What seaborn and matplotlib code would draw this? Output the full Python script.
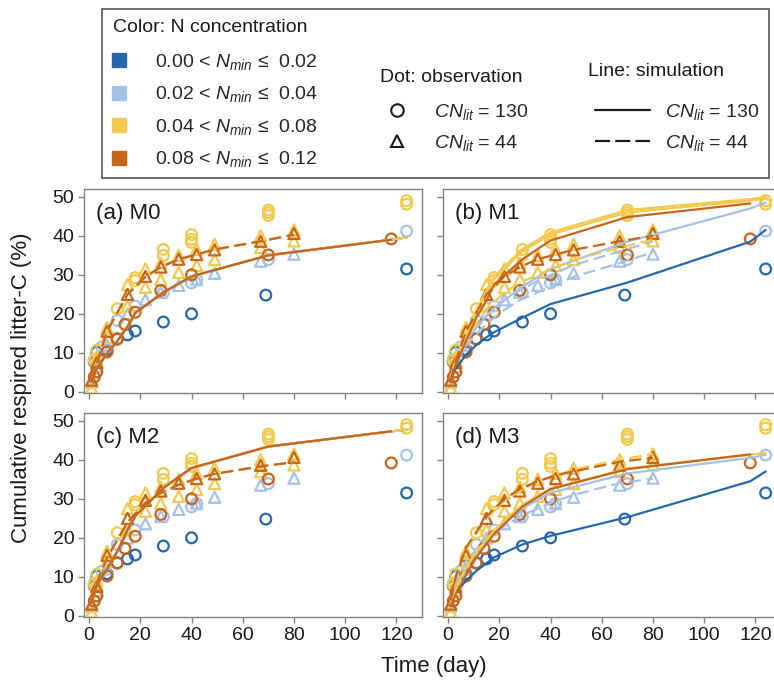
import matplotlib
matplotlib.use("Agg")
import matplotlib.pyplot as plt
from matplotlib.lines import Line2D
from matplotlib.patches import Rectangle
import seaborn as sns

sns.set_theme(style="ticks")
plt.rcParams["font.family"] = ["Liberation Sans", "DejaVu Sans"]
plt.rcParams["mathtext.fontset"] = "custom"
plt.rcParams["mathtext.rm"] = "Liberation Sans"
plt.rcParams["mathtext.it"] = "Liberation Sans:italic"

# N classes
class_colors = ["#2467ad", "#a4c2e8", "#f2c94c", "#c8651b"]
class_labels = [r"0.00 < $N_{min}$ ≤  0.02", r"0.02 < $N_{min}$ ≤  0.04",
                r"0.04 < $N_{min}$ ≤  0.08", r"0.08 < $N_{min}$ ≤  0.12"]

# observations, CN_lit = 130 (circles)
db_c_t = [2, 3, 7, 11, 15, 18, 29, 40, 69, 124]
db_c_y = [7.7, 10.2, 10.8, 13.6, 14.6, 15.6, 17.9, 20.0, 24.8, 31.5]
lb_c_t = [2, 5, 11, 18, 29, 40, 42, 70, 124]
lb_c_y = [8.3, 11.5, 18.3, 22.0, 25.4, 27.9, 28.8, 33.9, 41.2]
ye_c_t = [2, 3, 11, 18, 18, 29, 29, 40, 40, 40, 70, 70, 70, 124, 124]
ye_c_y = [8.0, 10.7, 21.3, 28.5, 29.3, 35.0, 36.5, 38.3, 39.1, 40.3, 45.2, 45.9, 46.6, 48.1, 49.0]
or_c_t = [2, 3, 7, 11, 14, 18, 28, 40, 70, 118]
or_c_y = [3.8, 5.1, 10.2, 13.5, 17.3, 20.4, 26.0, 30.0, 35.1, 39.2]

# observations, CN_lit = 44 (triangles)
tri_t = [1, 3, 7, 15, 22, 28, 35, 42, 49, 67, 80]
lb_t_y = [2.5, 6.5, 12.0, 20.0, 23.6, 25.5, 27.3, 28.8, 30.4, 33.5, 35.3]
ye_t_y1 = [1.0, 9.0, 16.5, 27.5, 31.5, 33.0, 35.0, 36.5, 37.8, 40.0, 41.5]
ye_t_y2 = [1.0, 8.0, 14.0, 22.0, 26.8, 28.8, 30.6, 32.4, 33.9, 37.0, 38.7]
or_t_y = [3.0, 7.5, 15.5, 25.0, 29.6, 32.0, 34.0, 35.2, 36.4, 38.6, 40.6]

# simulations
sim_t130 = [1, 3, 7, 11, 15, 18, 29, 40, 70, 118, 124]
sim_t44 = tri_t

m0_130 = [2.6, 6.0, 9.9, 13.0, 16.7, 20.2, 25.5, 29.6, 35.0, 39.0, 39.6]
m0_44 = [3.0, 7.3, 15.6, 25.0, 29.5, 32.0, 34.0, 35.2, 36.5, 38.6, 40.3]

m1_db130 = [3.0, 6.0, 9.5, 12.0, 14.0, 15.3, 19.0, 22.5, 28.0, 38.5, 41.5]
m1_lb130 = [4.0, 8.0, 13.0, 16.5, 19.5, 21.5, 27.0, 31.5, 38.5, 47.0, 48.5]
m1_ye130 = [3.5, 8.0, 14.0, 20.5, 25.5, 29.0, 36.0, 40.3, 46.0, 49.0, 49.5]
m1_ye130b = [3.5, 8.5, 14.5, 21.0, 26.0, 29.6, 36.6, 40.9, 46.6, 49.4, 49.9]
m1_or130 = [3.0, 7.0, 13.0, 19.0, 23.5, 27.5, 34.0, 38.8, 44.8, 48.3]
m1_lb44 = [3.0, 7.0, 12.0, 17.5, 21.0, 23.5, 25.5, 27.5, 29.5, 33.0, 35.8]
m1_lb44b = [3.5, 8.0, 13.5, 19.5, 23.5, 26.0, 28.5, 30.5, 32.5, 36.0, 38.6]
m1_ye44 = [3.5, 8.0, 14.0, 21.0, 25.5, 28.0, 30.0, 32.0, 33.8, 37.0, 39.0]
m1_or44 = [3.0, 8.0, 15.5, 25.0, 29.6, 32.0, 34.0, 35.2, 36.4, 38.6, 40.0]

m2_130 = [3.4, 8.0, 12.0, 16.5, 22.0, 25.6, 32.8, 37.9, 43.4, 47.3, 47.7]
m2_44 = [3.8, 8.5, 14.9, 24.0, 29.0, 31.5, 33.6, 35.2, 36.4, 38.3, 39.4]

m3_db130 = [3.3, 6.0, 9.0, 11.5, 13.5, 15.0, 18.3, 20.5, 25.3, 34.5, 37.0]
m3_lb130 = [3.0, 7.0, 12.5, 16.0, 19.5, 21.5, 27.5, 31.5, 36.5, 40.5, 41.3]
m3_ye130 = [3.0, 7.0, 12.5, 16.5, 19.5, 22.0, 28.5, 32.5, 37.8, 41.3, 41.8]
m3_or130 = [2.5, 5.5, 10.5, 15.0, 18.5, 21.0, 28.0, 32.5, 37.6, 41.4]
m3_lb44 = [3.0, 8.0, 14.0, 20.0, 23.0, 25.5, 27.5, 29.5, 31.0, 34.0, 35.2]
m3_ye44 = [4.0, 10.0, 17.0, 25.0, 29.5, 32.0, 34.5, 36.0, 37.5, 40.0, 41.5]
m3_or44 = [4.0, 10.0, 17.5, 25.5, 30.0, 32.5, 34.5, 36.0, 37.0, 39.5, 40.5]

circles = [(db_c_t, db_c_y), (lb_c_t, lb_c_y), (ye_c_t, ye_c_y), (or_c_t, or_c_y)]
triangles = [[], [(tri_t, lb_t_y)], [(tri_t, ye_t_y1), (tri_t, ye_t_y2)], [(tri_t, or_t_y)]]

# per panel: solid (CN 130) and dashed (CN 44) lines for each N class
panels = [
    ("(a) M0", [[m0_130], [m0_130], [m0_130], [m0_130[:-1]]],
     [[], [m0_44], [m0_44], [m0_44]]),
    ("(b) M1", [[m1_db130], [m1_lb130], [m1_ye130, m1_ye130b], [m1_or130]],
     [[], [m1_lb44, m1_lb44b], [m1_ye44], [m1_or44]]),
    ("(c) M2", [[m2_130], [m2_130], [m2_130], [m2_130[:-1]]],
     [[], [m2_44], [m2_44], [m2_44]]),
    ("(d) M3", [[m3_db130], [m3_lb130], [m3_ye130], [m3_or130]],
     [[], [m3_lb44], [m3_ye44], [m3_or44]]),
]

W, H = 774, 682
fig = plt.figure(figsize=(W / 100, H / 100), dpi=100)
boxes = [(84, 189), (443, 189), (84, 413), (443, 413)]
aw, ah = 338, 204

dash = (0, (5.5, 2.5))
gray = "#808080"
ink = "#1a1a1a"

for i, (title, sim130, sim44) in enumerate(panels):
    x0, y0 = boxes[i]
    ax = fig.add_axes([x0 / W, 1 - (y0 + ah) / H, aw / W, ah / H])
    for k, c in enumerate(class_colors):
        t, y = circles[k]
        sns.scatterplot(x=t, y=y, ax=ax, marker="o", s=60, color=c, facecolor="none",
                        edgecolor=c, linewidth=1.6, zorder=3)
        for tt, yy in triangles[k]:
            sns.scatterplot(x=tt, y=yy, ax=ax, marker="^", s=64, color=c, facecolor="none",
                            edgecolor=c, linewidth=1.6, zorder=3)
        for v in sim130[k]:
            sns.lineplot(x=sim_t130[:len(v)], y=v, ax=ax, color=c, linewidth=1.6,
                         errorbar=None, zorder=4)
        for v in sim44[k]:
            sns.lineplot(x=sim_t44, y=v, ax=ax, color=c, linewidth=1.6,
                         linestyle=dash, errorbar=None, zorder=4)

    ax.set_xlim(-2, 130)
    ax.set_ylim(-0.3, 52)
    ax.set_xticks(range(0, 121, 20))
    ax.set_yticks(range(0, 51, 10))
    ax.set_xlabel("")
    ax.set_ylabel("")
    for s in ax.spines.values():
        s.set_visible(True)
        s.set_color(gray)
        s.set_linewidth(1.0)
    ax.tick_params(direction="out", length=4, width=1, color=gray, labelsize=14,
                   labelcolor=ink, pad=3)
    if i < 2:
        ax.tick_params(labelbottom=False)
    if i % 2 == 1:
        ax.tick_params(labelleft=False)
    ax.text(0.035, 0.88, title, transform=ax.transAxes, fontsize=16, va="center", color=ink)

fig.text(0.028, 0.431, "Cumulative respired litter-C (%)", rotation=90, fontsize=16,
         va="center", ha="center", color=ink)
fig.text(0.56, 0.022, "Time (day)", fontsize=16, va="center", ha="center", color=ink)

# legend frame around all three legend blocks
fig.add_artist(Rectangle((102 / W, 1 - 178 / H), 667 / W, 169 / H, transform=fig.transFigure,
                         fill=False, edgecolor="#555555", linewidth=1.2))

common = dict(loc="upper left", frameon=False, fontsize=14, borderpad=0, borderaxespad=0)

fig.text(113 / W, 1 - 27 / H, "Color: N concentration", fontsize=14, va="center", color=ink)
h1 = [Line2D([], [], ls="none", marker="s", ms=9.5, mfc=c, mec=c) for c in class_colors]
fig.legend(h1, class_labels, bbox_to_anchor=(112 / W, 1 - 52 / H), handlelength=0.75,
           handletextpad=1.45, labelspacing=0.64, **common)

fig.text(380 / W, 1 - 77 / H, "Dot: observation", fontsize=14, va="center", color=ink)
h2 = [Line2D([], [], ls="none", marker="o", ms=9, mfc="none", mec="k", mew=1.5),
      Line2D([], [], ls="none", marker="^", ms=9, mfc="none", mec="k", mew=1.5)]
fig.legend(h2, [r"$CN_{lit}$ = 130", r"$CN_{lit}$ = 44"], bbox_to_anchor=(383 / W, 1 - 102 / H),
           handlelength=1.4, handletextpad=1.2, labelspacing=0.55, **common)

fig.text(588 / W, 1 - 72 / H, "Line: simulation", fontsize=14, va="center", color=ink)
h3 = [Line2D([], [], color="k", lw=1.6),
      Line2D([], [], color="k", lw=1.6, ls=(0, (6.8, 2.3)))]
fig.legend(h3, [r"$CN_{lit}$ = 130", r"$CN_{lit}$ = 44"], bbox_to_anchor=(595 / W, 1 - 102 / H),
           handlelength=2.85, handletextpad=0.77, labelspacing=0.55, **common)

fig.savefig("out.png", dpi=100)
